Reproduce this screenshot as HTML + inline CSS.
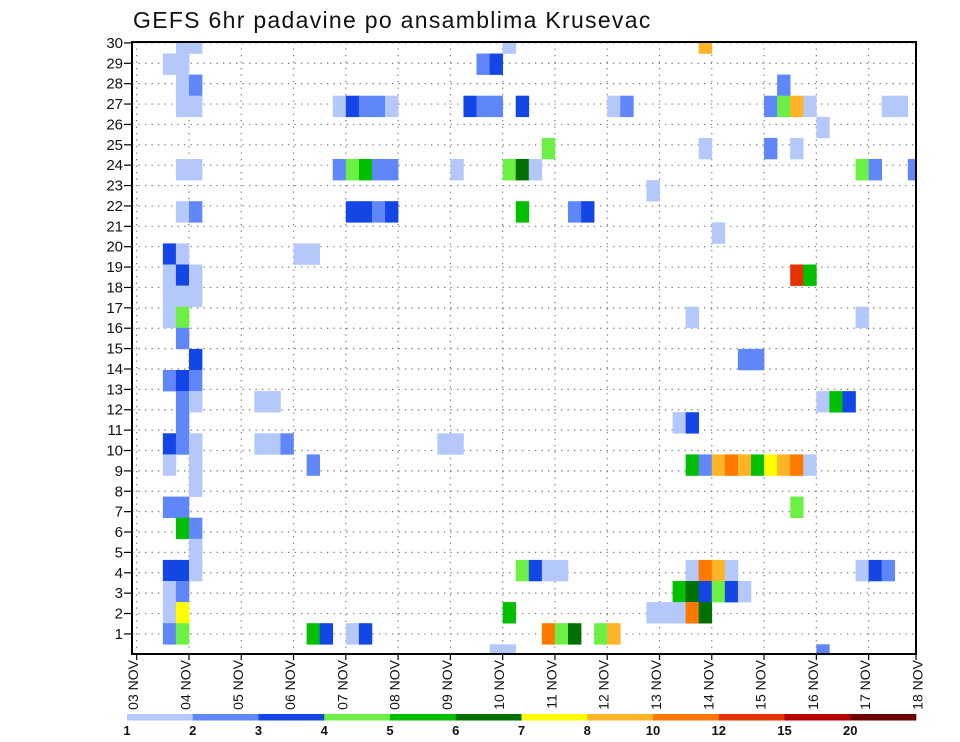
<!DOCTYPE html>
<html><head><meta charset="utf-8"><style>
html,body{margin:0;padding:0;background:#fff;}
svg{display:block;font-family:"Liberation Sans",sans-serif;}
</style></head><body>
<svg id="chart" width="960" height="742" viewBox="0 0 960 742" xmlns="http://www.w3.org/2000/svg">
<text x="133" y="28" font-size="23" fill="#111" letter-spacing="1.3">GEFS 6hr padavine po ansamblima Krusevac</text>
<g id="grid"></g>
<g id="cells"></g>
<rect x="132" y="42" width="784" height="612" fill="none" stroke="#000" stroke-width="2"/>
<g id="yaxis"></g>
<g id="xaxis"></g>
<g id="legend"></g>
</svg>
<script>
// ---- data ----
const dayLabels = ["03 NOV","04 NOV","05 NOV","06 NOV","07 NOV","08 NOV","09 NOV","10 NOV","11 NOV","12 NOV","13 NOV","14 NOV","15 NOV","16 NOV","17 NOV","18 NOV"];
const memberTicks = [1,2,3,4,5,6,7,8,9,10,11,12,13,14,15,16,17,18,19,20,21,22,23,24,25,26,27,28,29,30];
const legendLevels = ["1","2","3","4","5","6","7","8","10","12","15","20"];
const levelThresholds = [1,2,3,4,5,6,7,8,10,12,15,20];
const levelColors = ["#b4c8fa","#5f87fa","#1446e6","#6cf046","#00c000","#007000","#ffff00","#ffb428","#ff7800","#e63200","#b40000","#6e0000"];
// cell member index (from bottom), 6h step index from 03 NOV 00Z, precipitation (mm)
const cellMember = [
29,29,29,29, 28,28,28,28, 27,27,27,
26,26,26,26,26,26,26,26,26,26,26,26,26,26,26,26,26,26,26,
25, 24,24,24,24,
23,23,23,23,23,23,23,23,23,23,23,23,23,23,
22, 21,21,21,21,21,21,21,21,21, 20,
19,19,19,19, 18,18,18,18,18, 17,17,17, 16,16,16,16, 15, 14,14,14, 13,13,13,
12,12,12,12,12,12,12, 11,11,11,
10,10,10,10,10,10,10,10,
9,9,9,9,9,9,9,9,9,9,9,9,9,
8, 7,7,7, 6,6, 5,
4,4,4,4,4,4,4,4,4,4,4,4,4,4,
3,3,3,3,3,3,3,3,
2,2,2,2,2,2,2,2,
1,1,1,1,1,1,1,1,1,1,1,
0,0,0];
const cellStep = [
3,4,28,43, 2,3,26,27, 3,4,49,
3,4,15,16,17,18,19,25,26,27,29,36,37,48,49,50,51,57,58,
52, 31,43,48,50,
3,4,15,16,17,18,19,24,28,29,30,55,56,59,
39, 3,4,16,17,18,19,29,33,34, 44,
2,3,12,13, 2,3,4,50,51, 2,3,4, 2,3,42,55, 3, 4,46,47, 2,3,4,
3,4,9,10,52,53,54, 3,41,42,
2,3,4,9,10,11,23,24,
2,4,13,42,43,44,45,46,47,48,49,50,51,
4, 2,3,50, 3,4, 4,
2,3,4,29,30,31,32,42,43,44,45,55,56,57,
2,3,41,42,43,44,45,46,
2,3,28,39,40,41,42,43,
2,3,13,14,16,17,31,32,33,35,36,
27,28,52];
const cellValue = [
1.5,1.5,1.5,9, 1.5,1.5,2.5,3.5, 1.5,2.5,2.5,
1.5,1.5,1.5,3.5,2.5,2.5,1.5,3.5,2.5,2.5,3.5,1.5,2.5,2.5,4.5,9,1.5,1.5,1.5,
1.5, 4.5,1.5,2.5,1.5,
1.5,1.5,2.5,4.5,5.5,2.5,2.5,1.5,4.5,6.5,1.5,4.5,2.5,2.5,
1.5, 1.5,2.5,3.5,3.5,2.5,3.5,5.5,2.5,3.5, 1.5,
3.5,1.5,1.5,1.5, 1.5,3.5,1.5,13.5,5.5, 1.5,1.5,1.5, 1.5,4.5,1.5,1.5, 2.5, 3.5,2.5,2.5, 2.5,3.5,2.5,
2.5,1.5,1.5,1.5,1.5,5.5,3.5, 2.5,1.5,3.5,
3.5,2.5,1.5,1.5,1.5,2.5,1.5,1.5,
1.5,1.5,2.5,5.5,2.5,9,11,9,5.5,7.5,9,11,1.5,
1.5, 2.5,2.5,4.5, 5.5,2.5, 1.5,
3.5,3.5,1.5,4.5,3.5,1.5,1.5,1.5,11,9,1.5,1.5,3.5,2.5,
1.5,2.5,5.5,6.5,3.5,4.5,3.5,1.5,
1.5,7.5,5.5,1.5,1.5,1.5,11,6.5,
2.5,4.5,5.5,3.5,1.5,3.5,11,4.5,6.5,4.5,9,
1.5,1.5,2.5];

// ---- axes ----
const NS="http://www.w3.org/2000/svg";
const PL=132, PR=916, PT=42, PB=654;
const X0=136.7, DAY=52.28, STEP=DAY/4;
function xDay(d){return X0+d*DAY;}
function xStep(k){return X0+k*STEP;}
function yLabel(r){return 654.3-20.38*r;}
function yCellTop(m){return 644.3-21.1*m;}
const CELLH=21.1;
function colorFor(v){let i=0;for(let j=0;j<levelThresholds.length;j++){if(v>=levelThresholds[j])i=j;}return levelColors[i];}
function mk(tag,attrs,parent){const e=document.createElementNS(NS,tag);for(const k in attrs)e.setAttribute(k,attrs[k]);parent.appendChild(e);return e;}

const grid=document.getElementById('grid');
memberTicks.forEach(r=>{
  const y=yLabel(r);
  const l=mk('line',{x1:PL,x2:PR,y1:y,y2:y,stroke:'#777','stroke-width':1.2,'stroke-dasharray':'1.3 5.2'},grid);
  
  
});
dayLabels.forEach((d,i)=>{
  const x=xDay(i); if(x>PR) return;
  const l=mk('line',{x1:x,x2:x,y1:PT,y2:PB,stroke:'#777','stroke-width':1.2,'stroke-dasharray':'1.3 5.2'},grid);
  
  
});

const cells=document.getElementById('cells');
const clip=mk('clipPath',{id:'plotclip'},document.getElementById('chart'));
mk('rect',{x:PL,y:PT,width:PR-PL,height:PB-PT},clip);
cells.setAttribute('clip-path','url(#plotclip)');
for(let i=0;i<cellMember.length;i++){
  const r=mk('rect',{x:xStep(cellStep[i]),y:yCellTop(cellMember[i]),width:STEP+0.3,height:CELLH+0.3,fill:colorFor(cellValue[i])},cells);
  
  
}

const yaxis=document.getElementById('yaxis');
memberTicks.forEach(r=>{
  const y=yLabel(r);
  const t=mk('line',{x1:124,x2:PL,y1:y,y2:y,stroke:'#000','stroke-width':1.2},yaxis);
  
  
  const tx=mk('text',{x:123,y:y+5,'text-anchor':'end','font-size':15,fill:'#111'},yaxis);
  tx.textContent=r;
  
  
});

const xaxis=document.getElementById('xaxis');
dayLabels.forEach((d,i)=>{
  const x=xDay(i);
  const xx=Math.min(x,PR);
  const t=mk('line',{x1:xx,x2:xx,y1:PB,y2:PB+6,stroke:'#000','stroke-width':1.2},xaxis);
  
  
  const tx=mk('text',{x:0,y:0,'text-anchor':'end','font-size':14,fill:'#111',transform:`translate(${x+1.5},660) rotate(-90)`},xaxis);
  tx.textContent=d;
  
  
});

const legend=document.getElementById('legend');
const LX0=127, LX1=916, LW=(LX1-LX0)/levelColors.length;
levelColors.forEach((c,i)=>{
  const r=mk('rect',{x:LX0+i*LW,y:714,width:LW+0.3,height:6.5,fill:c},legend);
  
  
});
legendLevels.forEach((s,i)=>{
  const tx=mk('text',{x:LX0+i*LW,y:735,'text-anchor':'middle','font-size':13,'font-weight':'bold',fill:'#111'},legend);
  tx.textContent=s;
  
  
});
</script>
</body></html>
